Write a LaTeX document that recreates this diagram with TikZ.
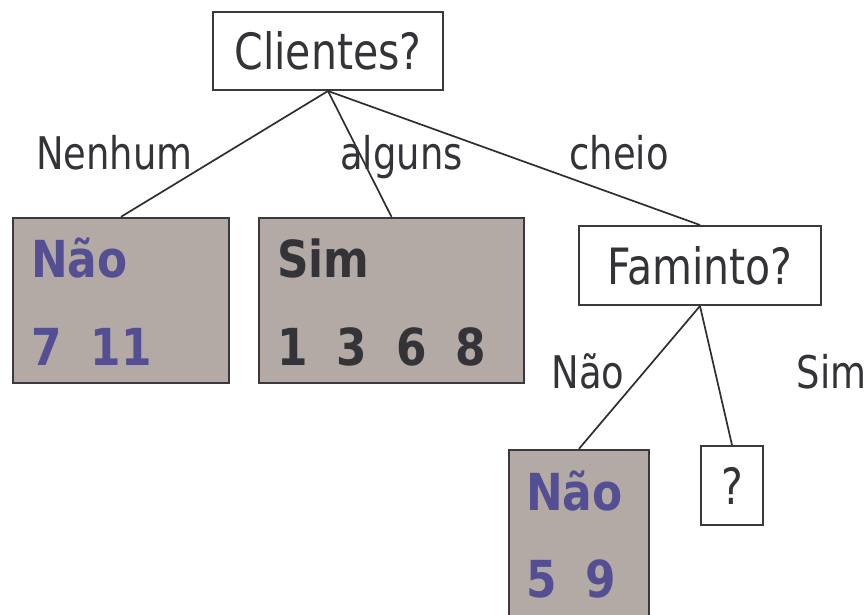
\documentclass[tikz,border=0pt]{standalone}
\usepackage{fontspec}
\setmainfont{DejaVu Sans}[FakeStretch=0.82]
\newfontfamily\leaffont{DejaVu Sans}[FakeStretch=0.86]
\definecolor{leafgray}{HTML}{B3AAA6}
\definecolor{purpletext}{HTML}{534F92}
\definecolor{textdark}{HTML}{333338}
\definecolor{boxline}{HTML}{3A3A3E}
\definecolor{linec}{HTML}{2E2E30}
\newcommand{\gap}{\hspace{29pt}}
\begin{document}
\begin{tikzpicture}[x=1pt,y=-1pt,
  edge/.style={draw=linec, line width=1.7pt},
  qbox/.style={draw=boxline, line width=2pt, fill=white, inner sep=0pt, text=textdark,
    font=\fontsize{50}{60}\selectfont},
  leaf/.style={draw=boxline, line width=2.4pt, fill=leafgray, inner sep=0pt},
  lab/.style={inner sep=0pt, anchor=base, text=textdark, font=\fontsize{45}{54}\selectfont},
  ltext/.style={inner sep=0pt, anchor=base west, font=\leaffont\bfseries\fontsize{51}{60}\selectfont},
  nao/.style={ltext, text=purpletext},
  sim/.style={ltext, text=textdark}]
\useasboundingbox (0,0) rectangle (868,614);
\clip (0,0) rectangle (868,614);

% decision nodes
\node[qbox, minimum width=230pt, minimum height=78pt] (cli) at (328,51) {Clientes?};
\node[qbox, minimum width=242pt, minimum height=79pt] (fam) at (700,265.5) {Faminto?};
\node[qbox, minimum width=62pt, minimum height=79pt, font=\fontsize{50}{60}\selectfont] (unk) at (732,485.5) {?};

% leaves
\node[leaf, minimum width=216pt, minimum height=165pt] (leafA) at (121,300.5) {};
\node[leaf, minimum width=265pt, minimum height=165pt] (leafB) at (391.5,300.5) {};
\node[leaf, minimum width=140pt, minimum height=190pt] (leafC) at (579,545) {};

% branches
\draw[edge] (cli.south) -- (leafA.north);
\draw[edge] (cli.south) -- (leafB.north);
\draw[edge] (cli.south) -- (fam.north);
\draw[edge] (fam.south) -- (leafC.north);
\draw[edge] (fam.south) -- (unk.north);

% branch labels
\node[lab] (lNenhum) at (114.5,169) {Nenhum};
\node[lab] (lAlguns) at (401.5,169) {alguns};
\node[lab] (lCheio) at (619,169) {cheio};
\node[lab] (lNao) at (588,388) {Não};
\node[lab] (lSim) at (831.5,388) {Sim};

% leaf contents
\node[nao] (aT) at (31,277) {Não};
\node[nao] (aN) at (31,365) {7\gap 11};
\node[sim] (bT) at (277,277) {Sim};
\node[sim] (bN) at (277,365) {1\gap 3\gap 6\gap 8};
\node[nao] (cT) at (526,510) {Não};
\node[nao] (cN) at (526,597) {5\gap 9};
\end{tikzpicture}
\end{document}
